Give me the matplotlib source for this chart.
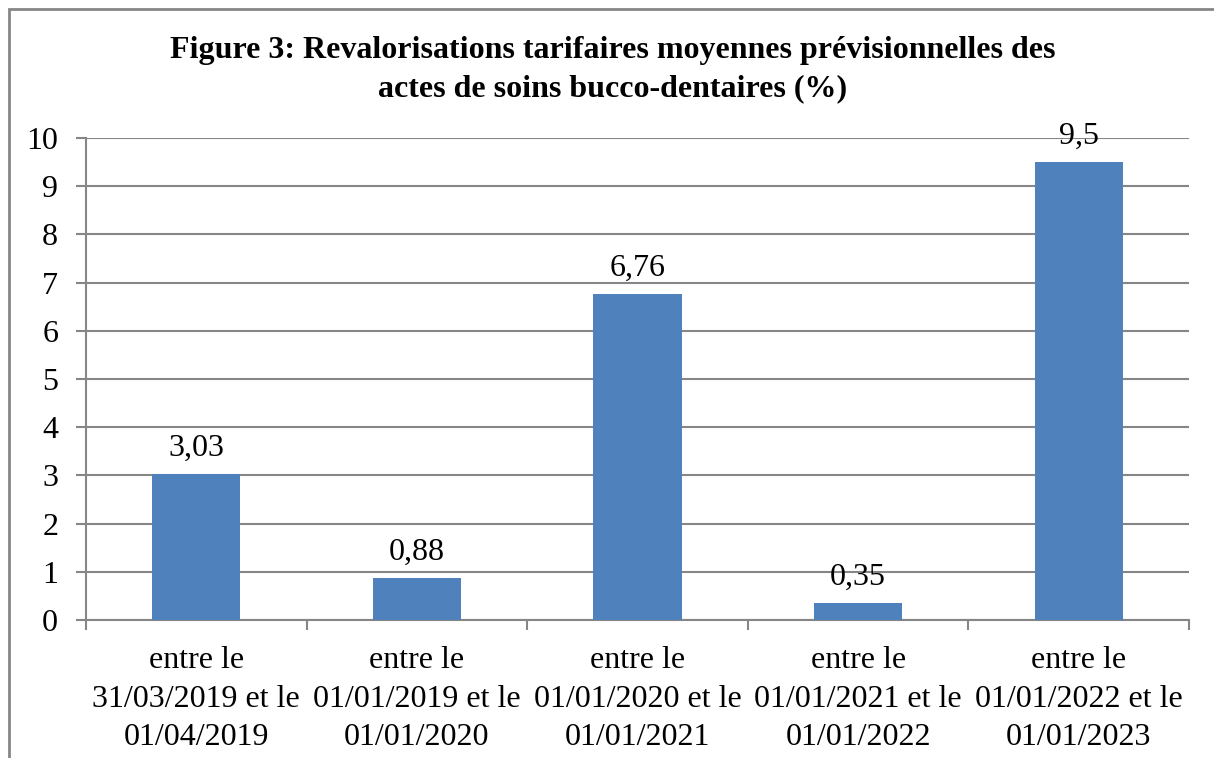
import numpy as np
import matplotlib.pyplot as plt
from matplotlib.patches import Rectangle

categories = [
    "entre le\n31/03/2019 et le\n01/04/2019",
    "entre le\n01/01/2019 et le\n01/01/2020",
    "entre le\n01/01/2020 et le\n01/01/2021",
    "entre le\n01/01/2021 et le\n01/01/2022",
    "entre le\n01/01/2022 et le\n01/01/2023",
]
values = [3.03, 0.88, 6.76, 0.35, 9.5]
value_labels = ["3,03", "0,88", "6,76", "0,35", "9,5"]
title = ("Figure 3: Revalorisations tarifaires moyennes prévisionnelles des\n"
         "actes de soins bucco-dentaires (%)")

plt.rcParams['font.family'] = ['Liberation Serif', 'DejaVu Serif']

W, H = 1214, 758
fig = plt.figure(figsize=(W / 100, H / 100), dpi=100)

# outer frame (only left and top edges are visible in the reference)
fig.patches.append(Rectangle((9 / W, -0.1), 1.2, 1 - 9 / H + 0.1,
                             transform=fig.transFigure, fill=False,
                             edgecolor='#868686', linewidth=2))

ax = fig.add_axes([86 / W, 1 - 620 / H, (1189 - 86) / W, (620 - 138) / H])
grid_col = '#868686'
fs = 23

x = np.arange(len(values))
ax.bar(x, values, width=0.4, color='#4F81BD', zorder=3)
for xi, v, lab in zip(x, values, value_labels):
    ax.annotate(lab, (xi, v), xytext=(0, 8), textcoords='offset points',
                ha='center', va='bottom', fontsize=fs, zorder=4)

ax.set_xlim(-0.5, len(values) - 0.5)
ax.set_ylim(0, 10)
ax.set_yticks(range(11))
ax.yaxis.grid(True, color=grid_col, linewidth=1.5, zorder=0)

ax.set_xticks(x)
ax.set_xticklabels(categories, fontsize=fs, linespacing=1.42)
ax.set_xticks(np.arange(-0.5, len(values)), minor=True)
ax.tick_params(axis='x', which='major', length=0, pad=19)
ax.tick_params(axis='x', which='minor', length=7, width=1.5, color=grid_col)
ax.tick_params(axis='y', length=7, width=1.5, color=grid_col, labelsize=fs, pad=13)

for s in ['top', 'right']:
    ax.spines[s].set_visible(False)
for s in ['left', 'bottom']:
    ax.spines[s].set_color(grid_col)
    ax.spines[s].set_linewidth(1.5)

fig.text(613 / W, 1 - 70 / H, title, ha='center', va='center',
         fontsize=fs, fontweight='bold', linespacing=1.42)

fig.savefig('out.png', dpi=100)
